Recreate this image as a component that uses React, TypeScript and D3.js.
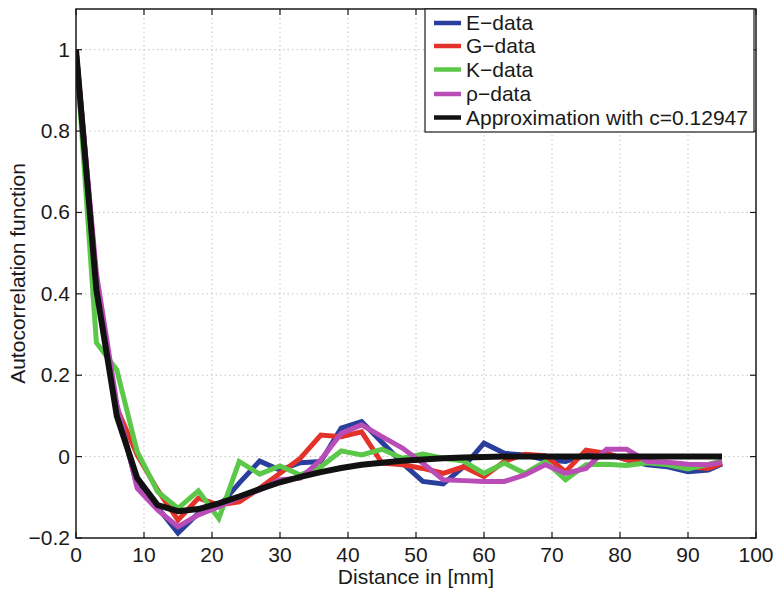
import React from "react";
import * as d3 from "d3";

const distances = [0, 3, 6, 9, 12, 15, 18, 21, 24, 27, 30, 33, 36, 39, 42, 45, 48, 51, 54, 57, 60, 63, 66, 69, 72, 75, 78, 81, 84, 87, 90, 93, 95];

const eData = [1, 0.43, 0.12, -0.072, -0.125, -0.188, -0.139, -0.123, -0.065, -0.011, -0.033, -0.015, -0.012, 0.07, 0.086, 0.035, -0.016, -0.061, -0.067, -0.025, 0.033, 0.008, 0.004, -0.008, -0.012, 0.004, 0.008, -0.008, -0.02, -0.025, -0.037, -0.033, -0.018];
const gData = [1, 0.43, 0.12, 0.004, -0.082, -0.156, -0.102, -0.119, -0.111, -0.078, -0.041, -0.004, 0.053, 0.049, 0.061, -0.016, -0.02, -0.029, -0.041, -0.025, -0.049, -0.012, 0.006, 0.002, -0.037, 0.016, 0.008, -0.008, -0.012, -0.016, -0.025, -0.029, -0.016];
const kData = [1, 0.28, 0.213, 0.012, -0.086, -0.127, -0.084, -0.152, -0.012, -0.043, -0.023, -0.045, -0.025, 0.014, 0.004, 0.018, -0.004, 0.006, -0.004, -0.011, -0.041, -0.016, -0.041, -0.012, -0.057, -0.02, -0.019, -0.022, -0.015, -0.02, -0.03, -0.019, -0.01];
const rhoData = [1, 0.45, 0.13, -0.078, -0.131, -0.172, -0.143, -0.123, -0.1, -0.082, -0.057, -0.053, -0.008, 0.057, 0.078, 0.049, 0.021, -0.016, -0.057, -0.059, -0.061, -0.061, -0.045, -0.02, -0.041, -0.029, 0.018, 0.018, -0.012, -0.014, -0.019, -0.02, -0.014];
const approxData = [1, 0.41, 0.1, -0.053, -0.119, -0.134, -0.129, -0.115, -0.098, -0.08, -0.063, -0.05, -0.038, -0.028, -0.02, -0.015, -0.01, -0.007, -0.004, -0.002, -0.001, 0, 0, 0, 0, 0, 0, 0, 0, 0, 0, 0, 0];

const seriesNames = ["E\u2212data", "G\u2212data", "K\u2212data", "\u03c1\u2212data", "Approximation with c=0.12947"];
const seriesValues = [eData, gData, kData, rhoData, approxData];
const seriesColors = ["#2a3f9d", "#e3322a", "#5cc84a", "#b94cb6", "#111111"];

const xTicks = [0, 10, 20, 30, 40, 50, 60, 70, 80, 90, 100];
const yTicks = [-0.2, 0, 0.2, 0.4, 0.6, 0.8, 1];

const W = 779;
const H = 598;
const left = 76;
const right = 756;
const top = 9;
const bottom = 538;
const fs = 21;
const font = "'Liberation Sans', Arial, Helvetica, sans-serif";

export default function App() {
  const x = d3.scaleLinear().domain([0, 100]).range([left, right]);
  const y = d3.scaleLinear().domain([-0.2, 1.1]).range([bottom, top]);
  const fmt = (v: number) => (v < 0 ? "\u2212" + String(Math.abs(v)) : String(v));
  const lineGen = d3
    .line<number>()
    .x((_, i) => x(distances[i]))
    .y((d) => y(d))
    .curve(d3.curveLinear);

  return (
    <svg
      width={W}
      height={H}
      style={{ position: "absolute", left: 0, top: 0, background: "#fff" }}
      fontFamily={font}
    >
      <rect x={0} y={0} width={W} height={H} fill="#fff" />
      <defs>
        <clipPath id="clip">
          <rect x={left} y={top} width={right - left} height={bottom - top} />
        </clipPath>
      </defs>
      {/* grid */}
      {xTicks.slice(1, -1).map((t) => (
        <line key={"gx" + t} x1={x(t)} x2={x(t)} y1={top} y2={bottom} stroke="#c4c4c4" strokeWidth={1} strokeDasharray="1.5,3" />
      ))}
      {yTicks.slice(1).map((t) => (
        <line key={"gy" + t} x1={left} x2={right} y1={y(t)} y2={y(t)} stroke="#c4c4c4" strokeWidth={1} strokeDasharray="1.5,3" />
      ))}
      {/* lines */}
      <g clipPath="url(#clip)">
        {seriesValues.map((vals, i) => (
          <path
            key={"s" + i}
            d={lineGen(vals) || ""}
            fill="none"
            stroke={seriesColors[i]}
            strokeWidth={i === 4 ? 6 : 5}
            strokeLinejoin="miter"
            strokeLinecap="butt"
          />
        ))}
      </g>
      {/* axes box */}
      <rect x={left} y={top} width={right - left} height={bottom - top} fill="none" stroke="#1a1a1a" strokeWidth={1.5} />
      {/* ticks */}
      {xTicks.map((t) => (
        <g key={"tx" + t}>
          <line x1={x(t)} x2={x(t)} y1={bottom} y2={bottom - 6} stroke="#1a1a1a" strokeWidth={1.2} />
          <line x1={x(t)} x2={x(t)} y1={top} y2={top + 6} stroke="#1a1a1a" strokeWidth={1.2} />
          <text x={x(t)} y={bottom + 24} textAnchor="middle" fontSize={fs} fill="#1a1a1a">
            {fmt(t)}
          </text>
        </g>
      ))}
      {yTicks.map((t) => (
        <g key={"ty" + t}>
          <line x1={left} x2={left + 6} y1={y(t)} y2={y(t)} stroke="#1a1a1a" strokeWidth={1.2} />
          <line x1={right} x2={right - 6} y1={y(t)} y2={y(t)} stroke="#1a1a1a" strokeWidth={1.2} />
          <text x={left - 6} y={y(t) + 7} textAnchor="end" fontSize={fs} fill="#1a1a1a">
            {fmt(t)}
          </text>
        </g>
      ))}
      {/* axis labels */}
      <text x={(left + right) / 2} y={584} textAnchor="middle" fontSize={fs} fill="#1a1a1a">
        Distance in [mm]
      </text>
      <text
        transform={`translate(25, ${(top + bottom) / 2}) rotate(-90)`}
        textAnchor="middle"
        fontSize={fs}
        fill="#1a1a1a"
      >
        Autocorrelation function
      </text>
      {/* legend */}
      <rect x={425} y={top} width={329} height={123} fill="#fff" stroke="#1a1a1a" strokeWidth={1.2} />
      {seriesNames.map((name, i) => {
        const ly = [23, 46, 69.5, 94, 117.5][i];
        return (
          <g key={"lg" + i}>
            <line x1={434} x2={461} y1={ly} y2={ly} stroke={seriesColors[i]} strokeWidth={4.5} />
            <text x={466} y={ly + 7} fontSize={fs} fill="#1a1a1a">
              {name}
            </text>
          </g>
        );
      })}
    </svg>
  );
}
